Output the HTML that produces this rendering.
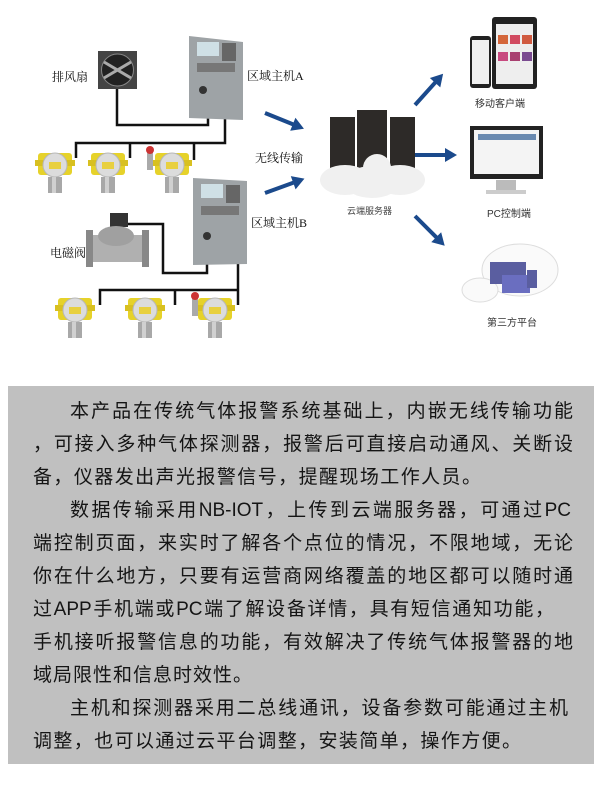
<!DOCTYPE html>
<html><head><meta charset="utf-8"><style>
body{margin:0;width:600px;height:800px;background:#fff;overflow:hidden;position:relative;font-family:"Liberation Sans","Noto Sans CJK SC",sans-serif}
svg{position:absolute;left:0;top:0}
.box{position:absolute;left:8px;top:386px;width:586px;height:378px;background:#c0c0c0}
.ln{position:absolute;left:33px;white-space:nowrap;font-size:19px;color:#151515;line-height:24px;text-align:justify;text-align-last:justify;text-justify:inter-character;overflow:visible}
</style></head><body>
<svg width="600" height="380" viewBox="0 0 600 380">
<defs>
<g id="det">
<rect x="-17" y="-12" width="34" height="22" rx="3" fill="#e6d22a"/>
<rect x="-20" y="-5" width="40" height="6" fill="#d8c020"/>
<circle cx="0" cy="0" r="12" fill="#dcdcdc" stroke="#b8b8b8"/>
<rect x="-6" y="-3" width="12" height="7" fill="#e8d040"/>
<rect x="-7" y="12" width="14" height="16" fill="#a8a8a8"/>
<rect x="-3" y="12" width="4" height="16" fill="#d0d0d0"/>
</g>
<g id="arrow"><path d="M0,-2 L30,-2 L30,-7 L42,0 L30,7 L30,2 L0,2Z" fill="#1b4a8c"/></g>
</defs>
<g fill="none" stroke="#111" stroke-width="2.5">
<path d="M117,89 V125 H208 V118"/>
<path d="M225,118 V143 H76 V158"/>
<path d="M130,143 V158 M194,143 V160"/>
<path d="M128,224 H163 V273 H207 V264"/>
<path d="M238,262 V305"/>
<path d="M100,305 V290 H238 M175,290 V305"/>
</g>
<rect x="98" y="51" width="39" height="38" fill="#444"/>
<circle cx="117.5" cy="70" r="16" fill="#222" stroke="#888"/>
<path d="M104,62 L131,78 M104,78 L131,62" stroke="#aaa" stroke-width="3"/>
<path d="M189,36 L243,42 L243,120 L189,118Z" fill="#9ea3a6"/>
<rect x="197" y="42" width="22" height="14" fill="#cfe0e6"/>
<rect x="222" y="43" width="14" height="18" fill="#666"/>
<rect x="197" y="63" width="38" height="9" fill="#777"/>
<circle cx="203" cy="90" r="4" fill="#333"/>
<path d="M193,178 L247,181 L247,264 L193,265Z" fill="#9ea3a6"/>
<rect x="201" y="184" width="22" height="14" fill="#cfe0e6"/>
<rect x="226" y="185" width="14" height="18" fill="#666"/>
<rect x="201" y="206" width="38" height="9" fill="#777"/>
<circle cx="207" cy="236" r="4" fill="#333"/>
<rect x="110" y="213" width="18" height="14" fill="#333"/>
<path d="M90,235 H145 V262 H90Z" fill="#b0b0b0"/>
<rect x="86" y="230" width="7" height="37" fill="#888"/>
<rect x="142" y="230" width="7" height="37" fill="#888"/>
<ellipse cx="116" cy="236" rx="18" ry="10" fill="#a0a0a0"/>
<use href="#det" x="55" y="165"/><use href="#det" x="108" y="165"/><use href="#det" x="172" y="165"/>
<rect x="147" y="150" width="6" height="20" fill="#aaa"/><circle cx="150" cy="150" r="4" fill="#c33"/>
<use href="#det" x="75" y="310"/><use href="#det" x="145" y="310"/><use href="#det" x="215" y="310"/>
<rect x="192" y="296" width="6" height="20" fill="#aaa"/><circle cx="195" cy="296" r="4" fill="#c33"/>
<g font-family="Liberation Serif,'Noto Serif CJK SC',serif" font-size="12" fill="#111">
<text x="52" y="81">排风扇</text>
<text x="247" y="80">区域主机A</text>
<text x="255" y="162">无线传输</text>
<text x="251" y="227">区域主机B</text>
<text x="50" y="257">电磁阀</text>
</g>
<use href="#arrow" transform="translate(265,113) rotate(22)"/>
<use href="#arrow" transform="translate(265,193) rotate(-20)"/>
<use href="#arrow" transform="translate(415,105) rotate(-48)"/>
<use href="#arrow" transform="translate(415,155)"/>
<use href="#arrow" transform="translate(415,216) rotate(45)"/>
<rect x="330" y="117" width="25" height="55" fill="#2d2a28"/>
<rect x="357" y="110" width="30" height="62" fill="#2d2a28"/>
<rect x="390" y="117" width="25" height="55" fill="#2d2a28"/>
<g fill="#f0f0f0"><ellipse cx="345" cy="180" rx="25" ry="15"/><ellipse cx="372" cy="182" rx="28" ry="16"/><ellipse cx="400" cy="180" rx="25" ry="15"/><circle cx="377" cy="168" r="14"/></g>
<text x="347" y="214" font-size="9" fill="#444">云端服务器</text>
<rect x="492" y="17" width="45" height="72" rx="3" fill="#222"/><rect x="496" y="24" width="37" height="60" fill="#eee"/>
<rect x="498" y="35" width="10" height="9" fill="#d4663a"/><rect x="510" y="35" width="10" height="9" fill="#d14a60"/><rect x="522" y="35" width="10" height="9" fill="#d05a40"/>
<rect x="498" y="52" width="10" height="9" fill="#c84a80"/><rect x="510" y="52" width="10" height="9" fill="#a84070"/><rect x="522" y="52" width="10" height="9" fill="#7a4a90"/>
<rect x="470" y="36" width="21" height="52" rx="3" fill="#222"/><rect x="472" y="40" width="17" height="44" fill="#f0f0f0"/>
<text x="475" y="107" font-size="10" fill="#333">移动客户端</text>
<rect x="470" y="126" width="73" height="53" fill="#222"/><rect x="474" y="130" width="65" height="44" fill="#f4f4f4"/>
<rect x="478" y="134" width="58" height="6" fill="#6a8ab0"/>
<rect x="496" y="180" width="20" height="10" fill="#bbb"/><rect x="486" y="190" width="40" height="4" fill="#ccc"/>
<text x="487" y="217" font-size="10" fill="#333">PC控制端</text>
<g fill="#fafafa" stroke="#ddd"><ellipse cx="520" cy="270" rx="38" ry="26"/><ellipse cx="480" cy="290" rx="18" ry="12"/></g>
<rect x="490" y="262" width="36" height="22" fill="#5a5ea0"/><rect x="502" y="275" width="28" height="18" fill="#6a6ec0"/><rect x="527" y="270" width="10" height="18" fill="#5a5ea0"/>
<text x="487" y="326" font-size="10" fill="#333">第三方平台</text>
</svg>
<div class="box"></div>
<div class="ln" style="left:70px;width:503px;top:400px">本产品在传统气体报警系统基础上，内嵌无线传输功能</div>
<div class="ln" style="width:540px;top:433px">，可接入多种气体探测器，报警后可直接启动通风、关断设</div>
<div class="ln" style="width:448px;top:466px">备，仪器发出声光报警信号，提醒现场工作人员。</div>
<div class="ln" style="left:70px;width:501px;top:499px">数据传输采用NB-IOT，上传到云端服务器，可通过PC</div>
<div class="ln" style="width:540px;top:532px">端控制页面，来实时了解各个点位的情况，不限地域，无论</div>
<div class="ln" style="width:540px;top:565px">你在什么地方，只要有运营商网络覆盖的地区都可以随时通</div>
<div class="ln" style="width:521px;top:598px">过APP手机端或PC端了解设备详情，具有短信通知功能，</div>
<div class="ln" style="width:540px;top:631px">手机接听报警信息的功能，有效解决了传统气体报警器的地</div>
<div class="ln" style="width:219px;top:664px">域局限性和信息时效性。</div>
<div class="ln" style="left:70px;width:498px;top:697px">主机和探测器采用二总线通讯，设备参数可能通过主机</div>
<div class="ln" style="width:488px;top:730px">调整，也可以通过云平台调整，安装简单，操作方便。</div>
</body></html>
